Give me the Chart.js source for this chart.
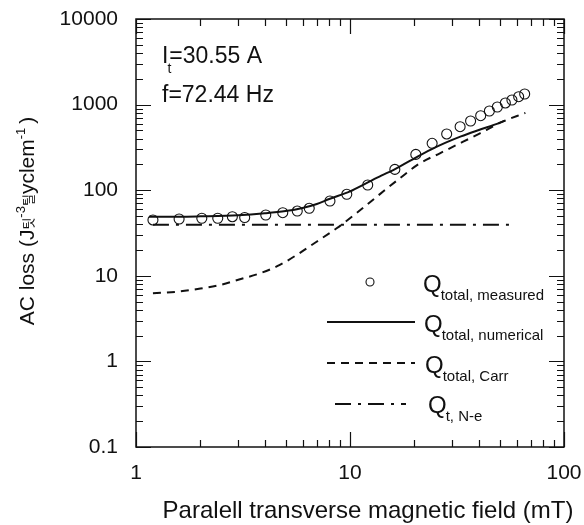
<!DOCTYPE html>
<html>
<head>
<meta charset="utf-8">
<script src="https://cdn.jsdelivr.net/npm/chart.js@4/dist/chart.umd.min.js"></script>
<style>
    html, body { margin: 0; padding: 0; background: #fff; }
    #wrap { width: 584px; height: 525px; position: relative; }
</style>
</head>
<body>
<div id="wrap"><canvas id="lossChart"></canvas></div>
<script>
// measured points (field in mT, loss)
const measuredField = [1.2, 1.59, 2.03, 2.41, 2.82, 3.22, 4.04, 4.85, 5.67, 6.45, 8.06, 9.66, 12.1, 16.2, 20.3, 24.2, 28.3, 32.7, 36.6, 40.8, 44.8, 48.8, 53.2, 57.1, 61.4, 65.5];
const measuredLoss = [44.9, 46.1, 47, 47, 49, 48, 51.3, 54.6, 57.1, 61.5, 74.8, 89.6, 115, 175, 262, 353, 454, 552, 643, 742, 842, 937, 1045, 1132, 1237, 1330];

// numerical curve
const numericalField = [1.15, 1.6, 2, 3, 4, 5, 6, 7, 8, 10, 12, 14, 16, 20, 24, 28, 33, 40, 47, 53];
const numericalLoss = [49, 49, 49.5, 51, 53.7, 57, 62, 69, 79, 97, 122, 148, 173, 236, 300, 359, 425, 505, 580, 649];

// Carr curve
const carrField = [1.2, 1.55, 2, 2.47, 3.06, 3.8, 4.7, 5.63, 6.98, 8.66, 10.7, 13.8, 17.1, 21.2, 26.3, 33.8, 40.5, 50.3, 66];
const carrLoss = [6.25, 6.5, 7.1, 7.8, 9.1, 10.7, 13.4, 17.5, 25, 35.9, 53.7, 90, 138, 206, 270, 369, 462, 615, 800];

// transport loss (Norris ellipse), flat
const neField = [1.2, 2, 5, 10, 20, 56];
const neLoss = [39.5, 39.5, 39.5, 39.5, 39.5, 39.5];

const xTicks = [1, 10, 100];
const yTicks = [0.1, 1, 10, 100, 1000, 10000];
const legendSubs = ['total, measured', 'total, numerical', 'total, Carr', 't, N-e'];
const noteCurrent = '=30.55 A';
const noteFreq = 'f=72.44 Hz';
const xTitle = 'Paralell transverse magnetic field (mT)';

const FONT = '"Liberation Sans", Arial, Helvetica, sans-serif';
const KFONT = '"Noto Sans CJK KR", sans-serif';
const INK = '#111';

function pts(xs, ys) {
    return xs.map((x, i) => ({ x: x, y: ys[i] }));
}

function drawParts(ctx, parts, x, y) {
    let cx = x;
    parts.forEach(p => {
        ctx.font = p.size + 'px ' + (p.family || FONT);
        ctx.fillText(p.text, cx, y + (p.dy || 0));
        cx += ctx.measureText(p.text).width + (p.gap || 0);
    });
    return cx - x;
}

function partsWidth(ctx, parts) {
    let w = 0;
    parts.forEach(p => {
        ctx.font = p.size + 'px ' + (p.family || FONT);
        w += ctx.measureText(p.text).width + (p.gap || 0);
    });
    return w;
}

function logValues(min, max) {
    const out = [];
    for (let d = Math.floor(Math.log10(min)); d <= Math.ceil(Math.log10(max)); d++) {
        for (let m = 1; m <= 9; m++) {
            const v = m * Math.pow(10, d);
            if (v >= min * 0.999 && v <= max * 1.001) out.push({ v: v, major: m === 1 });
        }
    }
    return out;
}

const decorations = {
    id: 'decorations',
    afterDraw(chart) {
        const ctx = chart.ctx;
        const a = chart.chartArea;
        const xs = chart.scales.x, ys = chart.scales.y;
        const ds = chart.data.datasets;
        ctx.save();

        // frame
        ctx.strokeStyle = INK;
        ctx.lineWidth = 1.5;
        ctx.strokeRect(a.left, a.top, a.right - a.left, a.bottom - a.top);

        // inward ticks on all four sides
        ctx.lineWidth = 1.2;
        ctx.beginPath();
        logValues(xs.min, xs.max).forEach(t => {
            const px = Math.round(xs.getPixelForValue(t.v)) + 0.5;
            const len = t.major ? 15 : 7;
            ctx.moveTo(px, a.bottom); ctx.lineTo(px, a.bottom - len);
            ctx.moveTo(px, a.top); ctx.lineTo(px, a.top + len);
        });
        logValues(ys.min, ys.max).forEach(t => {
            const py = Math.round(ys.getPixelForValue(t.v)) + 0.5;
            const len = t.major ? 15 : 7;
            ctx.moveTo(a.left, py); ctx.lineTo(a.left + len, py);
            ctx.moveTo(a.right, py); ctx.lineTo(a.right - len, py);
        });
        ctx.stroke();

        ctx.fillStyle = INK;
        ctx.textBaseline = 'alphabetic';
        ctx.textAlign = 'left';

        // current / frequency note
        drawParts(ctx, [
            { text: 'I', size: 23, gap: -1 },
            { text: 't', size: 14, dy: 10, gap: -2 },
            { text: noteCurrent, size: 23 }
        ], 162, 63);
        drawParts(ctx, [{ text: noteFreq, size: 23 }], 162, 102);

        // legend
        const rows = [
            { y: 282, qx: 423, base: 292, x0: 370, x1: 370 },
            { y: 322, qx: 424, base: 332, x0: 327, x1: 415 },
            { y: 363, qx: 425, base: 373, x0: 327, x1: 415 },
            { y: 404, qx: 428, base: 413, x0: 335, x1: 406 }
        ];
        rows.forEach((r, i) => {
            const d = ds[i];
            ctx.strokeStyle = INK;
            if (i === 0) {
                ctx.lineWidth = 1.1;
                ctx.setLineDash([]);
                ctx.beginPath();
                ctx.arc(r.x0, r.y, 4, 0, Math.PI * 2);
                ctx.stroke();
            } else {
                ctx.lineWidth = d.borderWidth;
                ctx.setLineDash(d.borderDash || []);
                ctx.beginPath();
                ctx.moveTo(r.x0, r.y);
                ctx.lineTo(r.x1, r.y);
                ctx.stroke();
                ctx.setLineDash([]);
            }
            ctx.font = '24px ' + FONT;
            ctx.fillText('Q', r.qx, r.base);
            const qw = ctx.measureText('Q').width;
            ctx.font = '15px ' + FONT;
            ctx.fillText(legendSubs[i], r.qx + qw - 1, r.base + 8);
        });

        // x axis title
        ctx.textAlign = 'center';
        ctx.font = '24px ' + FONT;
        ctx.fillText(xTitle, 368, 518);

        // y axis title, rotated
        const yParts = [
            { text: 'AC loss (J', size: 21 },
            { text: '\uD303', size: 13, family: KFONT, dy: -1 },
            { text: '-3', size: 13, dy: -9 },
            { text: '\uD2F8', size: 13, family: KFONT, dy: -1 },
            { text: 'yclem', size: 21 },
            { text: '-1', size: 13, dy: -9, gap: 4 },
            { text: ')', size: 21 }
        ];
        ctx.textAlign = 'left';
        ctx.translate(27, 221);
        ctx.rotate(-Math.PI / 2);
        drawParts(ctx, yParts, -partsWidth(ctx, yParts) / 2, 7);
        ctx.restore();
    }
};

const ctx = document.getElementById('lossChart').getContext('2d');
const lossChart = new Chart(ctx, {
    type: 'scatter',
    data: {
        datasets: [{
            label: 'Q total, measured',
            data: pts(measuredField, measuredLoss),
            showLine: false,
            pointStyle: 'circle',
            pointRadius: 5,
            pointBorderWidth: 1.1,
            borderColor: INK,
            backgroundColor: 'rgba(0,0,0,0)'
        }, {
            label: 'Q total, numerical',
            data: pts(numericalField, numericalLoss),
            showLine: true,
            pointRadius: 0,
            borderWidth: 2,
            borderColor: INK,
            cubicInterpolationMode: 'monotone'
        }, {
            label: 'Q total, Carr',
            data: pts(carrField, carrLoss),
            showLine: true,
            pointRadius: 0,
            borderWidth: 2,
            borderDash: [8, 6],
            borderColor: INK,
            cubicInterpolationMode: 'monotone'
        }, {
            label: 'Q t, N-e',
            data: pts(neField, neLoss),
            showLine: true,
            pointRadius: 0,
            borderWidth: 2,
            borderDash: [16, 7, 3, 7],
            borderColor: INK
        }]
    },
    options: {
        responsive: true,
        maintainAspectRatio: false,
        animation: false,
        layout: { padding: { top: 19, right: 20, left: 0, bottom: 0 } },
        plugins: {
            legend: { display: false },
            tooltip: { enabled: false }
        },
        scales: {
            x: {
                type: 'logarithmic',
                min: 1,
                max: 100,
                afterBuildTicks: s => { s.ticks = xTicks.map(v => ({ value: v })); },
                afterFit: s => {
                    s.height = 78;
                    s.paddingLeft = 0;
                    s.paddingRight = 0;
                },
                ticks: {
                    callback: v => String(v),
                    font: { family: FONT, size: 21 },
                    color: INK,
                    padding: 14,
                    maxRotation: 0,
                    autoSkip: false
                },
                grid: { display: false, drawTicks: false },
                border: { display: false }
            },
            y: {
                type: 'logarithmic',
                min: 0.1,
                max: 10000,
                afterBuildTicks: s => { s.ticks = yTicks.map(v => ({ value: v })); },
                afterFit: s => {
                    s.width = 136;
                    s.paddingTop = 0;
                    s.paddingBottom = 0;
                },
                ticks: {
                    callback: v => String(v),
                    font: { family: FONT, size: 21 },
                    color: INK,
                    padding: 18,
                    autoSkip: false
                },
                grid: { display: false, drawTicks: false },
                border: { display: false }
            }
        }
    },
    plugins: [decorations]
});
</script>
</body>
</html>
